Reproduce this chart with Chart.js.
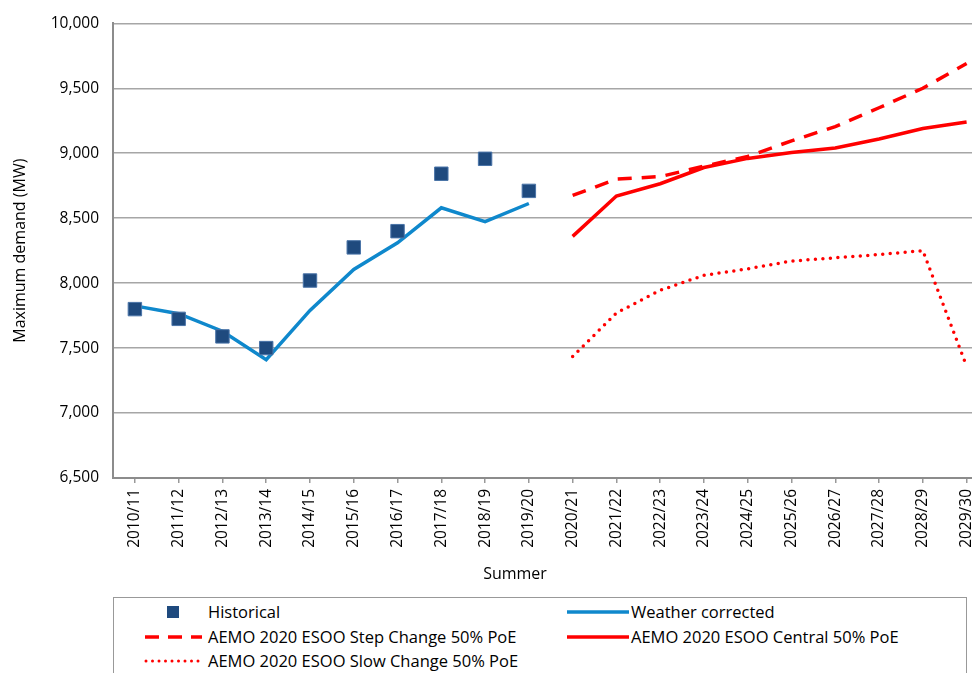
<!DOCTYPE html>
<html>
<head>
<meta charset="utf-8">
<script src="https://cdn.jsdelivr.net/npm/chart.js@4.4.1/dist/chart.umd.min.js"></script>
<style>
  body { margin: 0; background: #fff; overflow: hidden; width: 972px; height: 673px; position: relative; }
  #wrap { position: absolute; left: 0; top: 0; width: 999px; height: 590px; }
  #legend { position: absolute; left: 113px; top: 597px; width: 852px; height: 90px; border: 1px solid #999;
            font-family: "Open Sans", sans-serif; font-size: 16.5px; color: #000; }
  .item { position: absolute; height: 20px; line-height: 20px; white-space: nowrap; }
  .item svg { position: absolute; left: 0; top: 0; }
  .item span { position: absolute; left: 64px; top: 0; }
</style>
</head>
<body>
<div id="wrap"><canvas id="myChart" width="999" height="590" style="width:999px;height:590px"></canvas></div>
<div id="legend">
  <div class="item" style="left:30px;top:4px"><svg width="60" height="20"><rect x="23" y="4" width="12" height="12" fill="#1f4a7e"/></svg><span>Historical</span></div>
  <div class="item" style="left:453px;top:4px"><svg width="64" height="20"><line x1="0" y1="10" x2="62" y2="10" stroke="#0f88cc" stroke-width="3.5"/></svg><span>Weather corrected</span></div>
  <div class="item" style="left:30px;top:29px"><svg width="60" height="20"><line x1="1" y1="10" x2="58" y2="10" stroke="#ff0000" stroke-width="3.5" stroke-dasharray="14 9"/></svg><span>AEMO 2020 ESOO Step Change 50% PoE</span></div>
  <div class="item" style="left:453px;top:29px"><svg width="64" height="20"><line x1="0" y1="10" x2="62" y2="10" stroke="#ff0000" stroke-width="3.5"/></svg><span>AEMO 2020 ESOO Central 50% PoE</span></div>
  <div class="item" style="left:30px;top:53px"><svg width="60" height="20"><line x1="2" y1="10" x2="58" y2="10" stroke="#ff0000" stroke-width="3" stroke-linecap="round" stroke-dasharray="0 6.5"/></svg><span>AEMO 2020 ESOO Slow Change 50% PoE</span></div>
</div>
<script>
var summers = ['2010/11', '2011/12', '2012/13', '2013/14', '2014/15', '2015/16', '2016/17', '2017/18', '2018/19', '2019/20',
  '2020/21', '2021/22', '2022/23', '2023/24', '2024/25', '2025/26', '2026/27', '2027/28', '2028/29', '2029/30'];

var historical = [7800, 7725, 7590, 7500, 8020, 8275, 8400, 8842, 8957, 8710,
  null, null, null, null, null, null, null, null, null, null];
var weatherCorrected = [7825, 7765, 7630, 7410, 7790, 8105, 8310, 8580, 8473, 8613,
  null, null, null, null, null, null, null, null, null, null];
var stepChange = [null, null, null, null, null, null, null, null, null, null,
  8675, 8800, 8820, 8900, 8975, 9095, 9205, 9350, 9500, 9690];
var central = [null, null, null, null, null, null, null, null, null, null,
  8360, 8670, 8765, 8890, 8960, 9005, 9040, 9110, 9190, 9240];
var slowChange = [null, null, null, null, null, null, null, null, null, null,
  7435, 7770, 7945, 8060, 8110, 8170, 8195, 8220, 8250, 7360];

var yMin = 6500;
var yMax = 10000;
var yStep = 500;

var FONT = '"Open Sans", sans-serif';

// axis titles drawn by hand so they sit where the original puts them
var titles = {
  id: 'titles',
  afterDraw: function (chart) {
    var ctx = chart.ctx;
    ctx.save();
    ctx.fillStyle = '#000';
    ctx.font = '16px ' + FONT;
    ctx.textAlign = 'center';
    ctx.textBaseline = 'middle';
    ctx.fillText('Summer', 515, 574);
    ctx.translate(20, chart.chartArea.top + (chart.chartArea.bottom - chart.chartArea.top) / 2);
    ctx.rotate(-Math.PI / 2);
    ctx.fillText('Maximum demand (MW)', 0, 0);
    ctx.restore();
  }
};

var ctx = document.getElementById('myChart').getContext('2d');
var chart = new Chart(ctx, {
  type: 'line',
  data: {
    labels: summers,
    datasets: [
      {
        label: 'Historical',
        data: historical,
        showLine: false,
        pointStyle: 'rect',
        pointRadius: 9.5,
        backgroundColor: '#1f4a7e',
        borderColor: '#4a74a8',
        pointBorderWidth: 1
      },
      {
        label: 'Weather corrected',
        data: weatherCorrected,
        borderColor: '#0f88cc',
        borderWidth: 3.5,
        pointRadius: 0,
        tension: 0
      },
      {
        label: 'AEMO 2020 ESOO Step Change 50% PoE',
        data: stepChange,
        borderColor: '#ff0000',
        borderWidth: 3.5,
        borderDash: [14, 10],
        pointRadius: 0
      },
      {
        label: 'AEMO 2020 ESOO Central 50% PoE',
        data: central,
        borderColor: '#ff0000',
        borderWidth: 3.5,
        pointRadius: 0
      },
      {
        label: 'AEMO 2020 ESOO Slow Change 50% PoE',
        data: slowChange,
        borderColor: '#ff0000',
        borderWidth: 3.5,
        borderDash: [0, 7.5],
        borderCapStyle: 'round',
        pointRadius: 0
      }
    ]
  },
  options: {
    responsive: false,
    animation: false,
    devicePixelRatio: 1,
    layout: { padding: { top: 20, right: 0, left: 0, bottom: 0 } },
    plugins: {
      legend: { display: false },
      tooltip: { enabled: false }
    },
    scales: {
      x: {
        offset: true,
        afterFit: function (s) { s.height = 112; },
        grid: { display: true, drawOnChartArea: false, drawTicks: true, tickLength: 5, color: '#999', lineWidth: 1.5, offset: false },
        border: { color: '#8c8c8c', width: 2 },
        ticks: {
          minRotation: 90, maxRotation: 90, autoSkip: false, padding: 6,
          color: '#000', font: { family: FONT, size: 15.5 }
        }
      },
      y: {
        min: yMin,
        max: yMax,
        afterFit: function (s) { s.width = 113; },
        grid: { color: '#a6a6a6', lineWidth: 1.5, drawTicks: false },
        border: { color: '#8c8c8c', width: 2 },
        ticks: {
          stepSize: yStep, padding: 14, color: '#000',
          font: { family: FONT, size: 15.5 },
          callback: function (v) { return v.toLocaleString('en-US'); }
        }
      }
    }
  },
  plugins: [titles]
});
</script>
</body>
</html>
